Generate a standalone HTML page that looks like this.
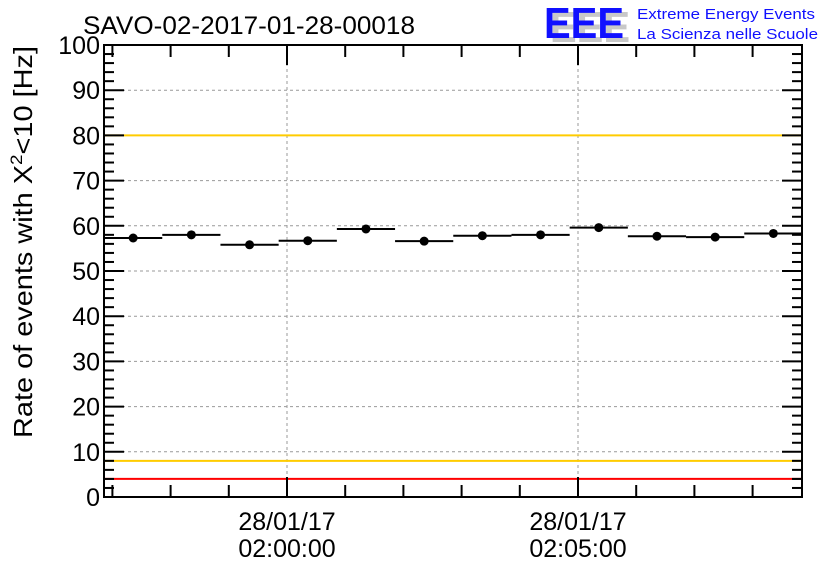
<!DOCTYPE html>
<html><head><meta charset="utf-8"><style>
body{margin:0;background:#fff}
svg{display:block;font-family:"Liberation Sans",sans-serif}
</style></head><body>
<svg id="c" width="836" height="572">
<text x="83" y="34" font-size="25" textLength="332" lengthAdjust="spacingAndGlyphs">SAVO-02-2017-01-28-00018</text>
<g>
<text x="550" y="42" font-size="44" font-weight="bold" fill="#c8c8c8" textLength="80" lengthAdjust="spacingAndGlyphs">EEE</text>
<text x="544" y="38" font-size="44" font-weight="bold" fill="#1010ff" textLength="80" lengthAdjust="spacingAndGlyphs">EEE</text>
<text x="637" y="19" font-size="15" fill="#1010ff" textLength="178" lengthAdjust="spacingAndGlyphs">Extreme Energy Events</text>
<text x="637" y="39" font-size="15" fill="#1010ff" textLength="181" lengthAdjust="spacingAndGlyphs">La Scienza nelle Scuole</text>
</g>
<text transform="translate(32,242) rotate(-90)" text-anchor="middle" font-size="26" textLength="392" lengthAdjust="spacingAndGlyphs">Rate of events with X<tspan dy="-10" font-size="17">2</tspan><tspan dy="10">&lt;10 [Hz]</tspan></text>
<g id="grid"></g><g id="lines"></g><g id="marks"></g><g id="axes"></g>
</svg>
<script>
const categories=[0,1,2,3,4,5,6,7,8,9,10,11];
const rates=[57.3,58.0,55.8,56.7,59.3,56.6,57.8,58.0,59.6,57.7,57.5,58.3];
const yTicks=[0,10,20,30,40,50,60,70,80,90,100];
const xTickLabels=[["28/01/17","02:00:00",0],["28/01/17","02:05:00",300]];
const thresholds=[{v:8,c:"#ffcc00"},{v:80,c:"#ffcc00"},{v:4,c:"#ff0000"},{v:100,c:"#ff0000"}];
const binStart=-188.6, binWidth=60;
const L=104,R=802,T=45,B=497;
const X=s=>287+s*(291/300);
const Y=v=>B-(v/100)*(B-T);
const NS="http://www.w3.org/2000/svg";
function mk(p,t,a){const e=document.createElementNS(NS,t);for(const k in a)e.setAttribute(k,a[k]);p.appendChild(e);return e;}
const grid=document.getElementById('grid'),lines=document.getElementById('lines'),marks=document.getElementById('marks'),axes=document.getElementById('axes');
yTicks.forEach(v=>{if(v>0&&v<100){const g=mk(grid,'line',{x1:L,x2:R,y1:Y(v),y2:Y(v),stroke:'#999','stroke-dasharray':'3,3'});

}
const t=mk(axes,'text',{x:L-4,y:Y(v)+9,'text-anchor':'end','font-size':25});t.textContent=v;

});
xTickLabels.forEach(d=>{const x=X(d[2]);const g=mk(grid,'line',{x1:x,x2:x,y1:T,y2:B,stroke:'#999','stroke-dasharray':'3,3'});


const t=mk(axes,'text',{x:x,y:530,'text-anchor':'middle','font-size':25});t.textContent=d[0];


const t2=mk(axes,'text',{x:x,y:557,'text-anchor':'middle','font-size':25});t2.textContent=d[1];

});
thresholds.forEach(h=>{const l=mk(lines,'line',{x1:L,x2:R,y1:Y(h.v),y2:Y(h.v),stroke:h.c,'stroke-width':2});

});
categories.forEach((c,i)=>{const s0=binStart+c*binWidth,v=rates[i];
const l=mk(marks,'line',{x1:X(s0),x2:X(s0+binWidth),y1:Y(v),y2:Y(v),stroke:'#000','stroke-width':2});


const p=mk(marks,'circle',{cx:X(s0+binWidth/2),cy:Y(v),r:4.5,fill:'#000'});

});
const frame=mk(axes,'rect',{x:L,y:T,width:R-L,height:B-T,fill:'none',stroke:'#000','stroke-width':2});


for(let v=0;v<=100;v+=2){const len=v%10===0?20:10;
mk(axes,'line',{x1:L,x2:L+len,y1:Y(v),y2:Y(v),stroke:'#000','stroke-width':2});
mk(axes,'line',{x1:R,x2:R-len,y1:Y(v),y2:Y(v),stroke:'#000','stroke-width':2});}
for(let s=-180;X(s)<R;s+=60){const len=(s%300===0)?20:12;
mk(axes,'line',{x1:X(s),x2:X(s),y1:B,y2:B-len,stroke:'#000','stroke-width':2});
mk(axes,'line',{x1:X(s),x2:X(s),y1:T,y2:T+len,stroke:'#000','stroke-width':2});}
</script>
</body></html>
